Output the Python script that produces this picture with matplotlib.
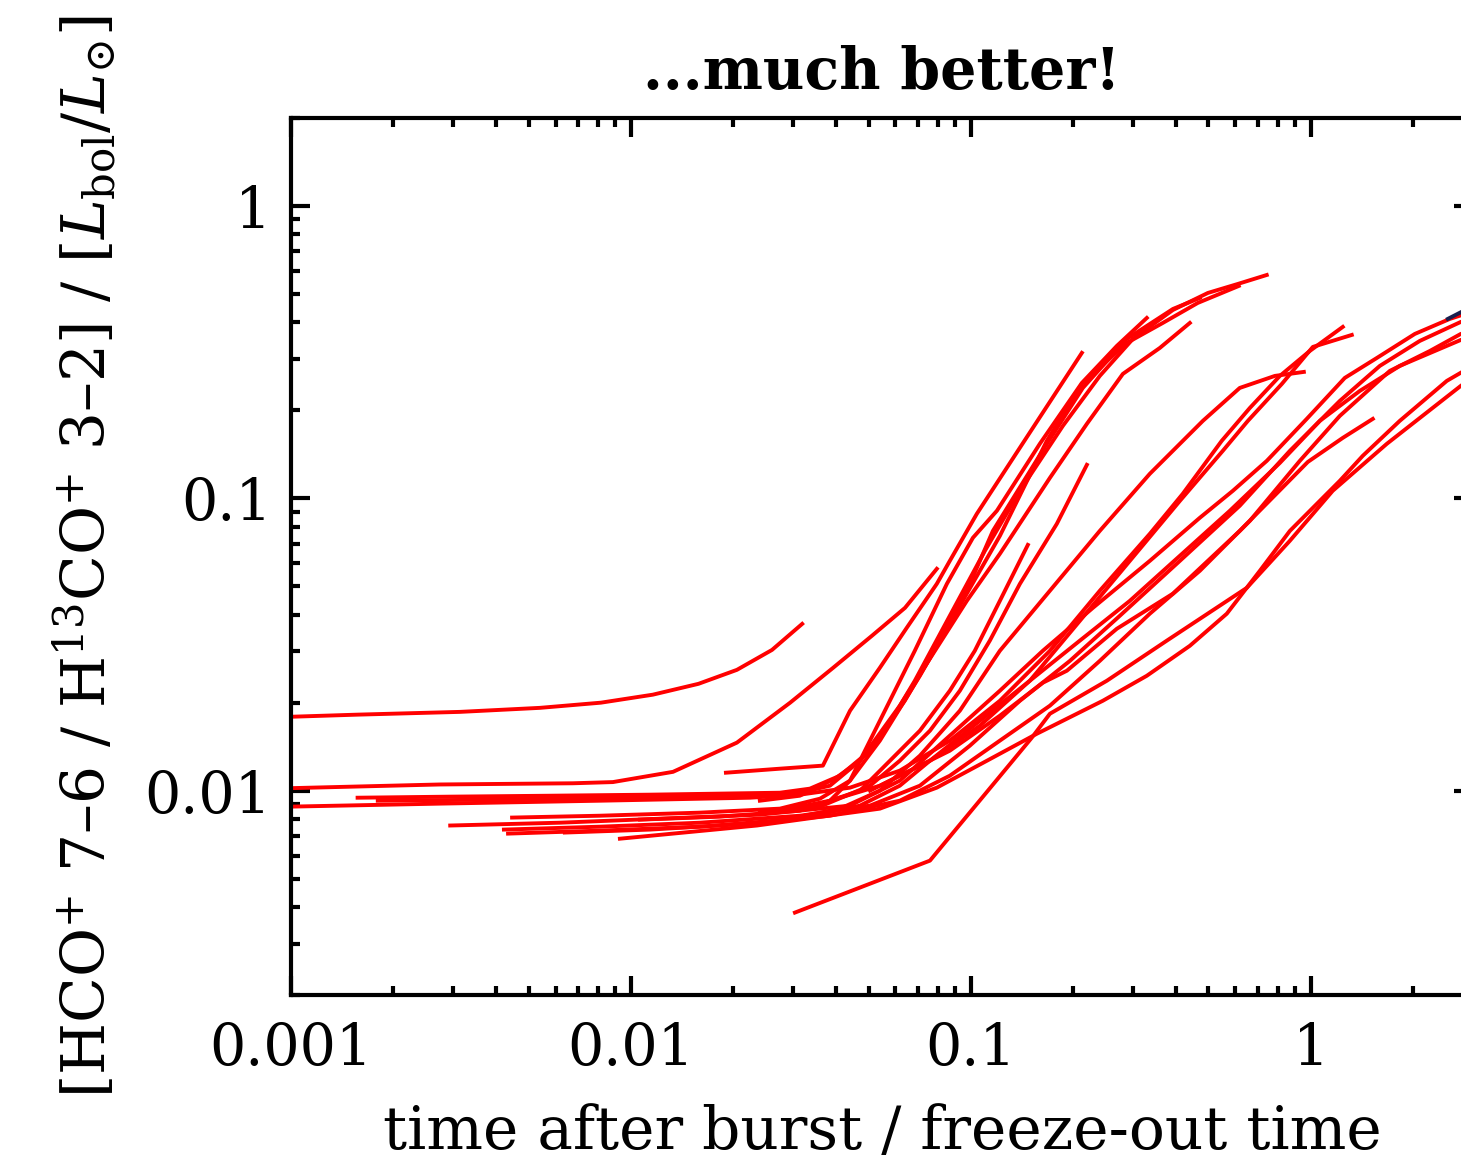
import matplotlib
matplotlib.use("Agg")
import matplotlib.pyplot as plt
from matplotlib.ticker import FixedLocator, FixedFormatter, LogLocator, NullFormatter

plt.rcParams['font.family'] = ['DejaVu Serif']
plt.rcParams['mathtext.fontset'] = 'dejavuserif'

# ---------------- data (time after burst / freeze-out time, line ratio) ----------------
t_l1 = [0.001, 0.00157, 0.00314, 0.0054, 0.00816, 0.0116, 0.0158, 0.0205, 0.0260, 0.0319]
r_l1 = [0.0179, 0.0182, 0.0186, 0.0192, 0.0200, 0.0213, 0.0232, 0.0259, 0.0303, 0.0372]

t_l2 = [0.001, 0.00274, 0.00675, 0.00885, 0.0133, 0.0205, 0.0294, 0.0393, 0.0512, 0.0640, 0.0794]
r_l2 = [0.0102, 0.0105, 0.0106, 0.0107, 0.0116, 0.0146, 0.0200, 0.0263, 0.0339, 0.0422, 0.0574]

t_l3 = [0.001, 0.00274, 0.00811, 0.0224, 0.0314, 0.0441, 0.0618, 0.0867, 0.1217, 0.1708,
        0.2395, 0.336, 0.420, 0.547, 0.662, 0.811, 0.993, 1.242]
r_l3 = [0.00882, 0.00903, 0.00924, 0.00946, 0.00969, 0.01024, 0.01171, 0.01483, 0.0203, 0.0301,
        0.0483, 0.0756, 0.1036, 0.1573, 0.2039, 0.2623, 0.3192, 0.3859]

t_l4 = [0.00157, 0.00294, 0.00578, 0.01137, 0.02743, 0.0336, 0.0412, 0.0505, 0.0639, 0.0811,
        0.0993, 0.1161, 0.1673, 0.2135, 0.2876, 0.393, 0.4716]
r_l4 = [0.00946, 0.00954, 0.00961, 0.00969, 0.00984, 0.01016, 0.01125, 0.01370, 0.0203, 0.0326,
        0.0510, 0.0774, 0.1536, 0.2386, 0.3510, 0.4444, 0.4847]

t_l5 = [0.0018, 0.0036, 0.00811, 0.01827, 0.0314, 0.0385, 0.0472, 0.0559, 0.0684, 0.0867,
        0.1100, 0.1394, 0.1865, 0.2395, 0.2996, 0.393, 0.498, 0.610, 0.742]
r_l5 = [0.00924, 0.00931, 0.00946, 0.00961, 0.00984, 0.01040, 0.01266, 0.01604, 0.02377, 0.03965,
        0.0662, 0.1061, 0.1770, 0.2623, 0.3510, 0.4409, 0.5042, 0.5412, 0.5808]

t_l6 = [0.00294, 0.00618, 0.01217, 0.02395, 0.0441, 0.0618, 0.0867, 0.1217, 0.1628, 0.2285,
        0.336, 0.4716, 0.5897, 0.742, 0.973, 1.259, 1.564, 2.023, 2.563, 3.36]
r_l6 = [0.00760, 0.00777, 0.00802, 0.00828, 0.00889, 0.01082, 0.01542, 0.02197, 0.0301, 0.0422,
        0.0611, 0.0858, 0.1061, 0.1343, 0.1870, 0.2582, 0.3021, 0.3651, 0.4108, 0.4550]

t_l7 = [0.00447, 0.00811, 0.01596, 0.02743, 0.0360, 0.0441, 0.0540, 0.0708, 0.0928, 0.1217,
        0.1673, 0.2121, 0.2876, 0.367, 0.465, 0.614]
r_l7 = [0.00809, 0.00821, 0.00841, 0.00868, 0.00939, 0.01082, 0.01483, 0.02472, 0.0429, 0.0744,
        0.1573, 0.2463, 0.3401, 0.3981, 0.4660, 0.5327]

t_l8 = [0.00423, 0.00811, 0.01596, 0.0314, 0.0505, 0.0708, 0.0993, 0.1394, 0.1956, 0.2743,
        0.4119, 0.618, 0.868, 1.217, 1.596, 2.092, 2.762, 3.36]
r_l8 = [0.00736, 0.00753, 0.00777, 0.00821, 0.00889, 0.01040, 0.01425, 0.0203, 0.0278, 0.03965,
        0.0611, 0.0943, 0.1454, 0.2154, 0.2838, 0.3455, 0.4013, 0.4306]

t_l9 = [0.00435, 0.00811, 0.01596, 0.0314, 0.0472, 0.0618, 0.0758, 0.1063, 0.1491, 0.2092,
        0.2935, 0.4119, 0.551, 0.653, 0.822, 1.014, 1.320]
r_l9 = [0.00713, 0.00730, 0.00753, 0.00802, 0.00889, 0.01040, 0.01266, 0.01668, 0.02377, 0.0381,
        0.0611, 0.0980, 0.1454, 0.1841, 0.2463, 0.3296, 0.3622]

t_l10 = [0.00639, 0.01137, 0.0224, 0.0385, 0.0618, 0.0867, 0.1217, 0.1708, 0.2395, 0.336,
         0.4716, 0.662, 0.928, 1.217, 1.708, 2.239, 2.762, 3.36]
r_l10 = [0.00719, 0.00736, 0.00771, 0.00821, 0.00924, 0.01125, 0.01483, 0.01953, 0.0278, 0.0403,
         0.0565, 0.0838, 0.1343, 0.1914, 0.2729, 0.3192, 0.3651, 0.3888]

t_l11 = [0.00928, 0.02348, 0.0540, 0.0794, 0.1115, 0.1564, 0.2444, 0.3293, 0.4407, 0.566,
         0.708, 0.868, 1.217, 1.422, 1.827, 2.512, 3.36]
r_l11 = [0.00685, 0.00760, 0.00868, 0.01024, 0.01266, 0.01566, 0.0203, 0.02472, 0.0313, 0.0403,
         0.0565, 0.0774, 0.1148, 0.1398, 0.1841, 0.2522, 0.3070]

t_l12 = [0.01063, 0.01827, 0.0314, 0.0385, 0.0441, 0.0540, 0.0684, 0.0850, 0.1014, 0.1193,
         0.1595, 0.2121, 0.2688, 0.3293]
r_l12 = [0.00796, 0.00815, 0.00854, 0.00924, 0.01082, 0.01735, 0.0301, 0.0510, 0.0733, 0.0907,
         0.1536, 0.2482, 0.3322, 0.4141]

t_l13 = [0.01903, 0.02743, 0.0367, 0.0441, 0.0540, 0.0648, 0.0794, 0.0867, 0.1041, 0.1375, 0.2121]
r_l13 = [0.01152, 0.01189, 0.01218, 0.01877, 0.02634, 0.0361, 0.0510, 0.0611, 0.0885, 0.1454, 0.3145]

t_low = [0.03037, 0.0758, 0.1511, 0.1708, 0.2512, 0.3771, 0.648, 0.868, 1.160, 1.673, 2.762, 3.36]
r_low = [0.003828, 0.005764, 0.01518, 0.01833, 0.02377, 0.0326, 0.0494, 0.0716, 0.1061, 0.1536,
         0.2425, 0.2838]

t_s1 = [0.02395, 0.0314, 0.0398, 0.0472, 0.0618, 0.0784, 0.0973, 0.1217, 0.1708, 0.2194,
        0.280, 0.3596, 0.4407]
r_s1 = [0.00924, 0.00961, 0.01099, 0.01266, 0.01953, 0.0301, 0.0446, 0.0646, 0.1175, 0.1798,
        0.2665, 0.3269, 0.3981]

t_s2 = [0.02395, 0.0360, 0.0505, 0.0618, 0.0758, 0.0928, 0.1137, 0.1394, 0.1790, 0.2194]
r_s2 = [0.00841, 0.00882, 0.01040, 0.01266, 0.01604, 0.02197, 0.0326, 0.0510, 0.0818, 0.1302]

t_s3 = [0.02935, 0.0385, 0.0472, 0.0578, 0.0708, 0.0867, 0.1027, 0.1217, 0.1471]
r_s3 = [0.00868, 0.00924, 0.0100, 0.01266, 0.01604, 0.02197, 0.0301, 0.0446, 0.0693]

t_s4 = [0.02743, 0.0412, 0.0540, 0.0708, 0.0928, 0.1217, 0.1708, 0.2395, 0.336, 0.4814,
        0.618, 0.784, 0.954]
r_s4 = [0.00790, 0.00868, 0.0100, 0.01317, 0.01877, 0.0301, 0.0483, 0.0774, 0.1213, 0.1841,
        0.2386, 0.2623, 0.2707]

t_s5 = [0.0385, 0.0540, 0.0758, 0.1063, 0.1491, 0.2092, 0.2935, 0.4119, 0.578, 0.811,
        1.063, 1.394, 1.827, 2.762, 3.36]
r_s5 = [0.00924, 0.01040, 0.01266, 0.01735, 0.02377, 0.0326, 0.0446, 0.0636, 0.0907, 0.1322,
        0.1841, 0.2331, 0.2838, 0.3482, 0.3737]

t_s6 = [0.0505, 0.0618, 0.0867, 0.1217, 0.1628, 0.1916, 0.2688, 0.393, 0.618, 0.980, 1.242, 1.522]
r_s6 = [0.0100, 0.01125, 0.01370, 0.01805, 0.02340, 0.02572, 0.0358, 0.0472, 0.0774, 0.1332,
        0.1610, 0.1870]

t_navy = [2.53, 3.4]
r_navy = [0.411, 0.49]

red_series = [(t_l1, r_l1), (t_l2, r_l2), (t_l3, r_l3), (t_l4, r_l4), (t_l5, r_l5),
              (t_l6, r_l6), (t_l7, r_l7), (t_l8, r_l8), (t_l9, r_l9), (t_l10, r_l10),
              (t_l11, r_l11), (t_l12, r_l12), (t_l13, r_l13), (t_low, r_low),
              (t_s1, r_s1), (t_s2, r_s2), (t_s3, r_s3), (t_s4, r_s4), (t_s5, r_s5),
              (t_s6, r_s6)]

x_ticks = [0.001, 0.01, 0.1, 1]
x_tick_labels = ['0.001', '0.01', '0.1', '1']
y_ticks = [0.01, 0.1, 1]
y_tick_labels = ['0.01', '0.1', '1']

# ---------------- figure ----------------
fig = plt.figure(figsize=(14.61, 11.63), dpi=100)
ax = fig.add_axes([0.19918, 0.14445, 0.80903, 0.75409])

for t, r in red_series:
    ax.plot(t, r, color='#ff0000', lw=2.8)
ax.plot(t_navy, r_navy, color='#1a1f4e', lw=2.8)

ax.set_xscale('log')
ax.set_yscale('log')
ax.set_xlim(1e-3, 3)
ax.set_ylim(2e-3, 2)

ax.xaxis.set_major_locator(FixedLocator(x_ticks))
ax.xaxis.set_major_formatter(FixedFormatter(x_tick_labels))
ax.yaxis.set_major_locator(FixedLocator(y_ticks))
ax.yaxis.set_major_formatter(FixedFormatter(y_tick_labels))
ax.xaxis.set_minor_locator(LogLocator(base=10, subs=range(2, 10), numticks=20))
ax.yaxis.set_minor_locator(LogLocator(base=10, subs=range(2, 10), numticks=20))
ax.xaxis.set_minor_formatter(NullFormatter())
ax.yaxis.set_minor_formatter(NullFormatter())

for s in ax.spines.values():
    s.set_linewidth(3.0)
ax.tick_params(which='both', direction='in', top=True, right=True, width=3.0, color='black')
ax.tick_params(which='major', length=14)
ax.tick_params(which='minor', length=6.5)
ax.tick_params(axis='x', which='major', labelsize=41, pad=19)
ax.tick_params(axis='y', which='major', labelsize=41, pad=14)

ax.set_title('...much better!', fontsize=41, fontweight='bold', pad=21)
ax.set_xlabel('time after burst / freeze-out time', fontsize=43)
ax.xaxis.set_label_coords(0.5, -0.123)
ax.set_ylabel('[HCO$^{+}$ 7–6 / H$^{13}$CO$^{+}$ 3–2] / [$L_{\\rm bol}/L_{\\odot}$]', fontsize=43)
ax.yaxis.set_label_coords(-0.146, 0.5)

fig.savefig('out.png', dpi=100)
